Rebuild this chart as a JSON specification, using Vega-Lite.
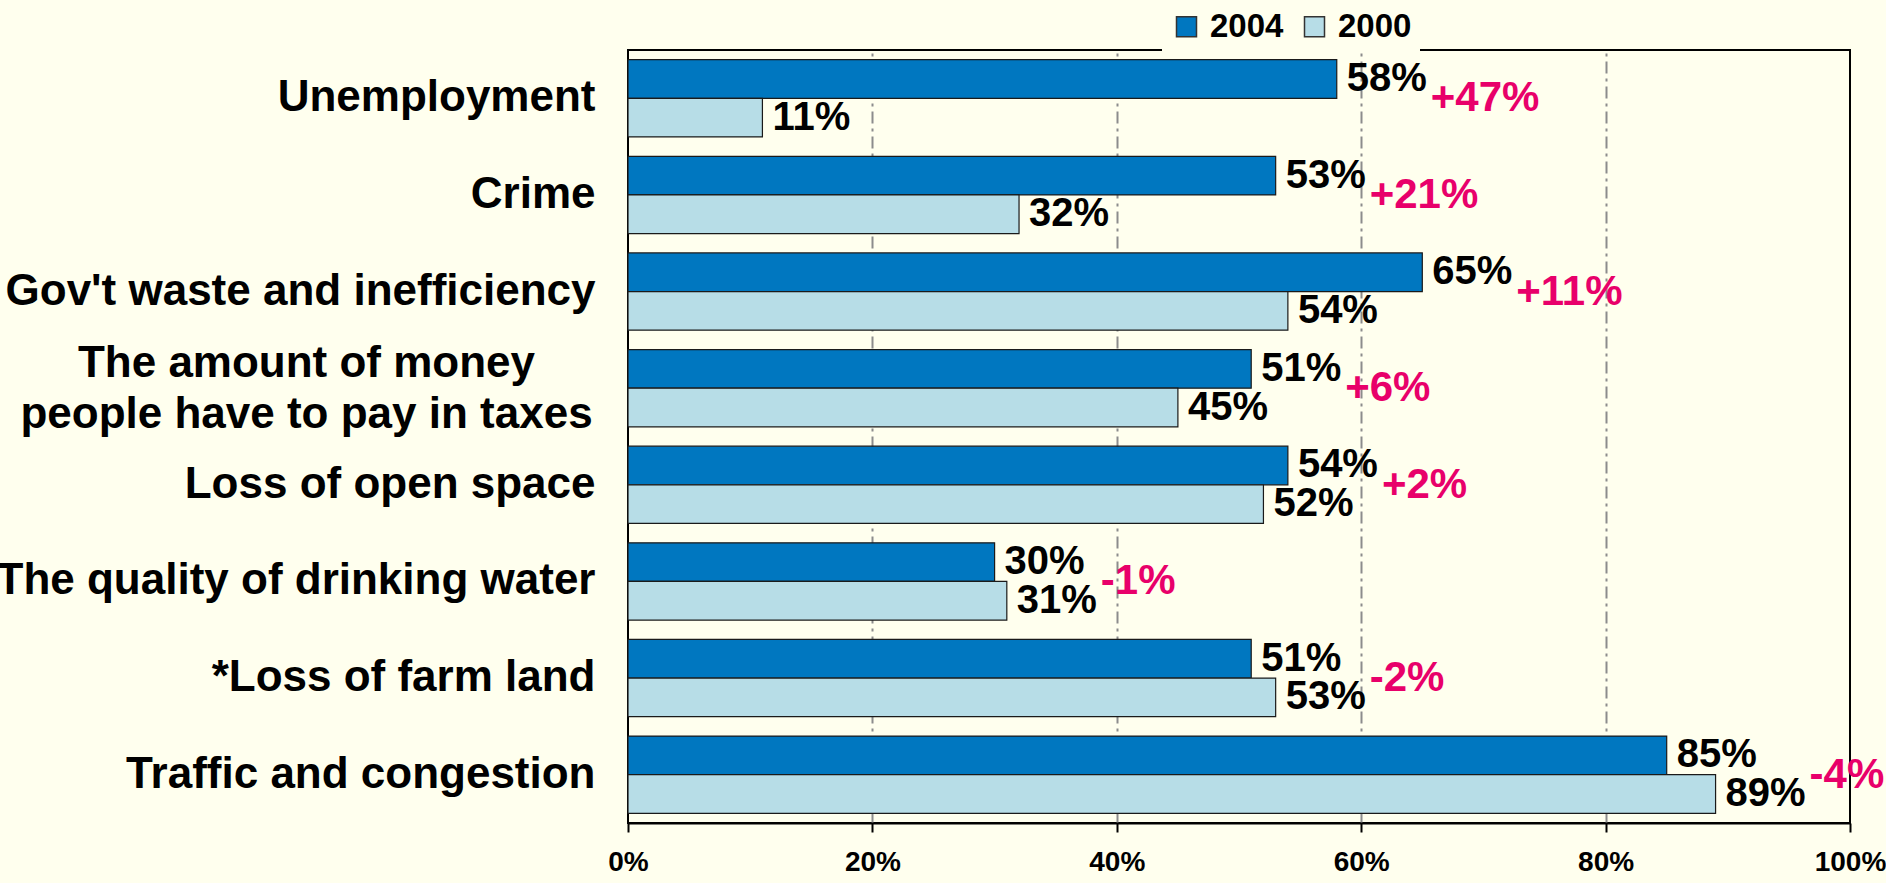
{
  "$schema": "https://vega.github.io/schema/vega-lite/v6.json",
  "width": 1222,
  "height": 773,
  "autosize": {"type": "none"},
  "padding": {"left": 628, "top": 50, "right": 36, "bottom": 60},
  "background": "#FFFFEE",
  "config": {
    "font": "Liberation Sans",
    "view": {"stroke": "#000000", "strokeWidth": 2, "fill": "#FFFFEE"}
  },
  "data": {
    "values": [
      {"category": "Unemployment", "year": "2004", "value": 0.58, "change": "+47%"},
      {"category": "Unemployment", "year": "2000", "value": 0.11, "change": "+47%"},
      {"category": "Crime", "year": "2004", "value": 0.53, "change": "+21%"},
      {"category": "Crime", "year": "2000", "value": 0.32, "change": "+21%"},
      {"category": "Gov't waste and inefficiency", "year": "2004", "value": 0.65, "change": "+11%"},
      {"category": "Gov't waste and inefficiency", "year": "2000", "value": 0.54, "change": "+11%"},
      {"category": "The amount of money|people have to pay in taxes", "year": "2004", "value": 0.51, "change": "+6%"},
      {"category": "The amount of money|people have to pay in taxes", "year": "2000", "value": 0.45, "change": "+6%"},
      {"category": "Loss of open space", "year": "2004", "value": 0.54, "change": "+2%"},
      {"category": "Loss of open space", "year": "2000", "value": 0.52, "change": "+2%"},
      {"category": "The quality of drinking water", "year": "2004", "value": 0.30, "change": "-1%"},
      {"category": "The quality of drinking water", "year": "2000", "value": 0.31, "change": "-1%"},
      {"category": "*Loss of farm land", "year": "2004", "value": 0.51, "change": "-2%"},
      {"category": "*Loss of farm land", "year": "2000", "value": 0.53, "change": "-2%"},
      {"category": "Traffic and congestion", "year": "2004", "value": 0.85, "change": "-4%"},
      {"category": "Traffic and congestion", "year": "2000", "value": 0.89, "change": "-4%"}
    ]
  },
  "encoding": {
    "y": {
      "field": "category",
      "type": "nominal",
      "sort": null,
      "scale": {"paddingInner": 0.2, "paddingOuter": 0.1},
      "axis": {
        "title": null,
        "domain": false,
        "ticks": false,
        "grid": false,
        "labelFontSize": 44,
        "labelFontWeight": "bold",
        "labelColor": "#000000",
        "labelLimit": 0,
        "labelExpr": "split(datum.label, '|')",
        "labelLineHeight": 51,
        "labelAlign": {"condition": {"test": "indexof(datum.value, '|') >= 0", "value": "center"}, "value": "right"},
        "labelPadding": {"condition": {"test": "indexof(datum.value, '|') >= 0", "value": 322}, "value": 33},
        "labelOffset": {"condition": {"test": "indexof(datum.value, '|') >= 0", "value": -24}, "value": 0}
      }
    }
  },
  "layer": [
    {
      "mark": {"type": "bar", "stroke": "#1a1a1a", "strokeWidth": 1.2},
      "encoding": {
        "x": {
          "field": "value",
          "type": "quantitative",
          "scale": {"domain": [0, 1], "nice": false},
          "axis": {
            "title": null,
            "format": ".0%",
            "values": [0, 0.2, 0.4, 0.6, 0.8, 1],
            "grid": true,
            "gridDash": [12, 5, 3, 5],
            "gridColor": "#8C8C8C",
            "gridWidth": 2,
            "gridOpacity": {"condition": {"test": "datum.value == 0 || datum.value == 1", "value": 0}, "value": 1},
            "labelFontSize": 28,
            "labelFontWeight": "bold",
            "labelColor": "#000000",
            "labelFlush": false,
            "labelPadding": 16,
            "tickColor": "#000000",
            "tickWidth": 2,
            "tickSize": 9,
            "domain": true,
            "domainColor": "#000000",
            "domainWidth": 2
          }
        },
        "yOffset": {"field": "year", "sort": ["2004", "2000"]},
        "color": {
          "field": "year",
          "type": "nominal",
          "scale": {"domain": ["2004", "2000"], "range": ["#0077C0", "#B7DDE7"]},
          "legend": {
            "title": null,
            "orient": "none",
            "legendX": 534,
            "legendY": -48,
            "direction": "horizontal",
            "fillColor": "#FFFFEE",
            "padding": 8,
            "symbolType": "square",
            "symbolSize": 400,
            "symbolStrokeColor": "#333333",
            "symbolStrokeWidth": 1.5,
            "labelFontSize": 33,
            "labelFontWeight": "bold",
            "labelColor": "#000000",
            "labelOffset": 7,
            "columnPadding": 14
          }
        }
      }
    },
    {
      "mark": {"type": "text", "align": "left", "baseline": "middle", "dx": 10, "fontSize": 40, "fontWeight": "bold", "color": "#000000"},
      "encoding": {
        "x": {"field": "value", "type": "quantitative"},
        "yOffset": {"field": "year", "sort": ["2004", "2000"]},
        "text": {"field": "value", "format": ".0%"}
      }
    },
    {
      "transform": [{"aggregate": [{"op": "max", "field": "value", "as": "high"}], "groupby": ["category", "change"]}],
      "mark": {"type": "text", "align": "left", "baseline": "middle", "dx": 94, "fontSize": 42, "fontWeight": "bold", "color": "#E8006A"},
      "encoding": {
        "x": {"field": "high", "type": "quantitative"},
        "text": {"field": "change"}
      }
    }
  ]
}
